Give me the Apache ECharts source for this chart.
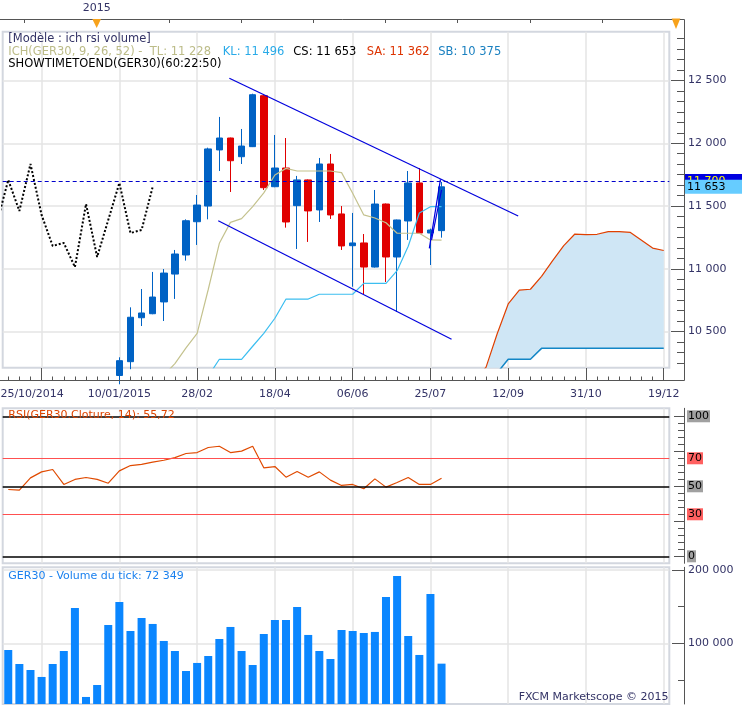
<!DOCTYPE html>
<html>
<head>
<meta charset="utf-8">
<script src="https://cdn.jsdelivr.net/npm/echarts@6/dist/echarts.min.js"></script>
<style>
html,body{margin:0;padding:0;background:#fff}
#chart{width:742px;height:706px}
</style>
</head>
<body>
<div id="chart"></div>
<script>
// weekly GER30 candles, slots 10..39 (earlier weeks sit below the visible price range)
var candleIdx = [10,11,12,13,14,15,16,17,18,19,20,21,22,23,24,25,26,27,28,29,30,31,32,33,34,35,36,37,38,39];
var opens  = [10150,10260,10610,10642,10736,10958,11110,11375,11500,11947,12042,11893,11973,12379,11654,11803,11503,11708,11469,11835,11437,11184,11206,11014,11516,11094,11381,11684,11285,11304];
var closes = [10268,10614,10648,10775,10966,11118,11383,11508,11955,12042,11861,11978,12387,11646,11803,11373,11708,11461,11835,11429,11182,11206,11014,11516,11094,11389,11684,11285,11309,11653];
var lows   = [10080,10200,10544,10638,10584,10760,11065,11190,11394,11779,11612,11835,11970,11628,11650,11328,11158,11214,11373,11397,11150,10857,10799,11010,10895,10656,11230,11280,11030,11248];
var highs  = [10295,10693,10839,10975,10998,11150,11394,11588,11965,12210,12045,12114,12395,12385,12066,12042,11740,11712,11883,11915,11500,11445,11277,11628,11520,11392,11779,11803,11320,11692];

// ichimoku lines
var tenkanStart = 14;
var tenkan = [10150,10245,10370,10486,10835,11203,11370,11400,11495,11605,11747,11800,11779,11779,11779,11779,11766,11602,11429,11405,11367,11283,11283,11283,11230,11228];
var kijunStart = 17;
var kijun = [10100,10145,10279,10279,10279,10383,10486,10606,10759,10759,10759,10797,10797,10797,10797,10884,10884,10884,10985,11180,11445,11495,11495];
var spanStart = 42;
var senkouA = [10120,10215,10480,10720,10830,10837,10940,11065,11185,11277,11272,11275,11296,11296,11290,11228,11165,11146];
var senkouB = [9900,10000,10170,10279,10279,10279,10366,10366,10366,10366,10366,10366,10366,10366,10366,10366,10366,10366];

// RSI(14) and tick volume, slots 0..39
var rsi = [47.7,47.3,56.0,60.3,62.0,51.3,54.9,56.3,54.9,52.2,61.0,64.8,65.6,67.2,68.6,70.5,73.4,74.1,77.7,78.6,74.1,75.1,78.6,63.2,64.1,56.5,60.6,56.5,60.3,54.4,50.6,51.3,48.2,55.3,49.4,52.7,56.3,51.3,51.3,55.7];
var volume = [91000,71900,63700,54200,71900,89600,148300,26900,43200,125100,156500,116900,134700,126500,103300,89600,62300,73300,82800,106000,122400,89600,70500,112800,131900,131900,149700,111500,89600,78700,118300,116900,114200,115600,163300,192000,110100,84200,167400,72349];

// drawn trend lines [slot, price]
var channelTop = [[19.9,12518],[45.9,11421]];
var channelBottom = [[18.9,11383],[39.9,10438]];
var flagA = [[37.9,11163],[38.9,11713]];
var flagB = [[38.1,11230],[39.0,11628]];
var askPrice = 11700;
var lastClose = 11653;

// axis ticks
var slotCount = 60;
var majorSlots = [3,10,17,24,31,38,45,52,59];
var dateLabels = ['25/10/2014','10/01/2015','28/02','18/04','06/06','25/07','12/09','31/10','19/12'];
var priceTicks = [10500,11000,11500,12000,12500];
var rsiLevels = [100,70,50,30,0];
var volTicks = [100000,200000];
var volMinor = [50000,150000];
var topTicks = [1.45,7.95,14.45,20.95,27.45,33.95,40.45,46.95,53.45];

var FONT = 'DejaVu Sans';
var NAVY = '#333366';
var GRIDC = '#e4e4e4';
var AX = '#555';
var LEG = '11.5px "DejaVu Sans"';

function fmt(v){ return String(Math.round(v)).replace(/\B(?=(\d{3})+(?!\d))/g,' '); }

var allSlots = [];
for (var i = 0; i < slotCount; i++) allSlots.push(i);
var minorPrice = [];
for (var p = 10250; p <= 12889; p += 500/6) minorPrice.push(p);
var rsiMinor = [];
for (var r = 0; r <= 100; r += 5) rsiMinor.push(r);

var candleData = candleIdx.map(function(x,k){ return [x, opens[k], closes[k], lows[k], highs[k]]; });
function pairs(start, arr){ return arr.map(function(v,k){ return [start+k, v]; }); }
// chikou span: closes shifted back 26 weeks
var chikou = candleIdx.map(function(x,k){ return [x-26, closes[k]]; }).filter(function(d){ return d[0] >= -1; });
var saData = pairs(spanStart, senkouA);
var sbData = pairs(spanStart, senkouB);

var L = 2.7, W = 666.6, AXIS_X = 684;
var OFF_R = AXIS_X - L - W;     // right axes pushed out to x=684
var OFF_L = L - AXIS_X;         // left helper axes pulled over to x=684

var myChart = echarts.init(document.getElementById('chart'));

function slotAxis(grid, extra){
  var o = { type:'value', gridIndex:grid, min:-0.5, max:slotCount-0.5,
    axisLine:{show:false, onZero:false}, axisTick:{show:false, customValues:majorSlots},
    axisLabel:{show:false}, splitLine:{show:true, lineStyle:{color:GRIDC, width:1.5}} };
  for (var k in extra) o[k] = extra[k];
  return o;
}
function tickAxis(grid, pos, off, min, max, vals, len, inside){
  return { type:'value', gridIndex:grid, position:pos, offset:off, min:min, max:max,
    axisLine:{show:false, onZero:false}, axisLabel:{show:false}, splitLine:{show:false},
    axisTick:{show:true, inside:inside, length:len, customValues:vals, lineStyle:{color:AX}} };
}
function line(name, data, color, width, type){
  return {name:name, type:'line', xAxisIndex:0, yAxisIndex:0, data:data, symbol:'none',
    lineStyle:{color:color, width:width, type:type || 'solid'}};
}
function txt(s, x, y, color, extra){
  var st = {text:s, x:x, y:y, verticalAlign:'middle', fill:color, font:LEG};
  for (var k in extra) st[k] = extra[k];
  return {type:'text', style:st, z:11};
}
function panel(top, height, show){
  return {left:L, width:W, top:top, height:height, show:show, borderColor:'#d3d7df', borderWidth:2,
    backgroundColor:'#fff', containLabel:false, outerBoundsMode:'none'};
}

var option = {
  animation:false,
  backgroundColor:'#fff',
  textStyle:{fontFamily:FONT},
  grid:[
    panel(31.7, 336, true),
    panel(408.3, 155, true),
    panel(567.3, 136.7, true),
    panel(19.5, 10, false)
  ],
  xAxis:[
    slotAxis(0, {position:'bottom', offset:12.3,
      axisTick:{show:true, inside:true, length:12, customValues:majorSlots, lineStyle:{color:AX}},
      axisLabel:{show:true, customValues:majorSlots, margin:9, color:NAVY, fontSize:11, fontFamily:FONT,
        formatter:function(v){ var k = majorSlots.indexOf(Math.round(v)); return k===0 ? '{f|'+dateLabels[k]+'}' : dateLabels[k]; },
        rich:{f:{padding:[0,19,0,0], color:NAVY, fontSize:11, fontFamily:FONT}}}}),
    tickAxis(0, 'top', 31.7-380, -0.5, slotCount-0.5, allSlots, 3.5, false),
    slotAxis(1, {}),
    slotAxis(2, {}),
    tickAxis(3, 'top', 0, -0.5, slotCount-0.5, topTicks, 3.5, true)
  ],
  yAxis:[
    {type:'value', gridIndex:0, position:'right', offset:OFF_R, min:10212, max:12889,
      axisLine:{show:false, onZero:false},
      axisTick:{show:true, inside:true, length:13, customValues:priceTicks, lineStyle:{color:AX}},
      axisLabel:{show:true, customValues:priceTicks, margin:4, color:NAVY, fontSize:11, fontFamily:FONT, formatter:fmt},
      splitLine:{show:true, lineStyle:{color:GRIDC, width:1.5}}},
    tickAxis(0, 'left', OFF_L, 10212, 12889, minorPrice, 7, false),
    {type:'value', gridIndex:1, position:'right', offset:OFF_R, min:-5, max:105.7,
      axisLine:{show:true, onZero:false, lineStyle:{color:AX}}, axisLabel:{show:false}, splitLine:{show:false},
      axisTick:{show:true, inside:true, length:6, customValues:rsiMinor, lineStyle:{color:AX}}},
    tickAxis(1, 'left', OFF_L, -5, 105.7, [0,25,50,75,100], 10, false),
    {type:'value', gridIndex:2, position:'right', offset:OFF_R, min:17300, max:203800,
      axisLine:{show:true, onZero:false, lineStyle:{color:AX}},
      axisTick:{show:true, inside:true, length:12, customValues:volTicks, lineStyle:{color:AX}},
      axisLabel:{show:true, customValues:volTicks, margin:4, color:NAVY, fontSize:11, fontFamily:FONT, formatter:fmt},
      splitLine:{show:true, lineStyle:{color:GRIDC, width:1.5}}},
    tickAxis(2, 'left', OFF_L, 17300, 203800, volMinor, 6, false),
    {type:'value', gridIndex:3, show:false, min:0, max:1, axisLine:{onZero:false}}
  ],
  series:[
    {name:'cloud', type:'custom', xAxisIndex:0, yAxisIndex:0, clip:true, silent:true, z:1,
      data:[saData[0]],
      renderItem:function(params, api){
        var pts = saData.map(function(d){ return api.coord(d); });
        for (var k = sbData.length-1; k >= 0; k--) pts.push(api.coord(sbData[k]));
        return {type:'polygon', shape:{points:pts}, style:{fill:'#cfe6f5', stroke:null}};
      }},
    line('SB', sbData, '#1386c6', 1.5),
    line('SA', saData, '#e04000', 1.2),
    {name:'GER30', type:'candlestick', xAxisIndex:0, yAxisIndex:0, data:candleData, barWidth:7,
      encode:{x:0, y:[1,2,3,4]},
      itemStyle:{color:'#0062c4', color0:'#e00000', borderColor:'#0062c4', borderColor0:'#e00000', borderWidth:1},
      markLine:{silent:true, symbol:['none','none'], animation:false,
        label:{show:true, position:'end', distance:15.7, fontSize:11, fontFamily:FONT, padding:[2,17,1,2]},
        data:[
          {yAxis:askPrice, lineStyle:{color:'#0000cc', type:[4,3], width:1},
            label:{formatter:fmt(askPrice), color:'#ffff00', backgroundColor:'#0000e0'}}
        ]}},
    line('TL', pairs(tenkanStart, tenkan), '#c4c28e', 1.2),
    line('KL', pairs(kijunStart, kijun), '#3cbef0', 1.2),
    line('CS', chikou, '#000', 2, [2,2]),
    line('t1', channelTop, '#0000dd', 1.2),
    line('t2', channelBottom, '#0000dd', 1.2),
    line('t3', flagA, '#0000dd', 1.2),
    {name:'t4', type:'line', xAxisIndex:0, yAxisIndex:0, data:flagB, symbol:'none',
      lineStyle:{color:'#0000dd', width:1.2},
      markLine:{silent:true, symbol:['none','none'], animation:false,
        data:[{yAxis:lastClose, lineStyle:{width:0, color:'rgba(0,0,0,0)'},
          label:{show:true, position:'end', distance:15.7, fontSize:11, fontFamily:FONT, padding:[2,17,1,2],
            formatter:fmt(lastClose), color:'#000', backgroundColor:'#66ccff'}}]}},
    {name:'RSI', type:'line', xAxisIndex:2, yAxisIndex:2, data:pairs(0, rsi), symbol:'none',
      lineStyle:{color:'#e04a00', width:1.2},
      markLine:{silent:true, symbol:['none','none'], animation:false,
        label:{show:true, position:'end', distance:17.7, color:'#000', fontSize:11, fontFamily:FONT, padding:[1,1,0,1], formatter:'{c}'},
        data:rsiLevels.map(function(v){
          var red = (v===70 || v===30);
          return {yAxis:v, lineStyle:{color: red ? '#ff5050' : '#000', width: red ? 1 : 1.5, type:'solid'},
            label:{backgroundColor: red ? '#ff6060' : '#a0a0a0'}};
        })}},
    {name:'Volume', type:'bar', xAxisIndex:3, yAxisIndex:4, data:pairs(0, volume), barWidth:8,
      itemStyle:{color:'#0a86ff'}}
  ],
  graphic:[
    {type:'polyline', shape:{points:[[0,19.5],[684.5,19.5],[684.5,380.5],[0,380.5]]}, style:{stroke:AX, fill:null, lineWidth:1}, z:10},
    {type:'polygon', shape:{points:[[92.3,19],[101,19],[96.7,28]]}, style:{fill:'#f7a21b'}, z:11},
    {type:'polygon', shape:{points:[[671.7,18.5],[680.3,18.5],[676,29]]}, style:{fill:'#f7a21b'}, z:11},
    txt('2015', 96.7, 8.3, NAVY, {align:'center', font:'11px "DejaVu Sans"'}),
    txt('[Modèle : ich rsi volume]', 8.3, 39.3, NAVY),
    txt('ICH(GER30, 9, 26, 52) -  TL: 11 228', 8.3, 51.7, '#bcbc88'),
    txt('KL: 11 496', 222.7, 51.7, '#29aae8'),
    txt('CS: 11 653', 293.3, 51.7, '#000'),
    txt('SA: 11 362', 366.7, 51.7, '#dd3300'),
    txt('SB: 10 375', 438.3, 51.7, '#1a80c0'),
    txt('SHOWTIMETOEND(GER30)(60:22:50)', 8.3, 64, '#000'),
    txt('RSI(GER30.Cloture, 14): 55,72', 8.3, 415.5, '#dd4400', {font:'11px "DejaVu Sans"'}),
    txt('GER30 - Volume du tick: 72 349', 8.3, 576, '#1a80ee', {font:'11px "DejaVu Sans"'}),
    txt('FXCM Marketscope © 2015', 668.5, 697, NAVY, {align:'right', font:'11px "DejaVu Sans"'})
  ]
};

myChart.setOption(option);
</script>
</body>
</html>
